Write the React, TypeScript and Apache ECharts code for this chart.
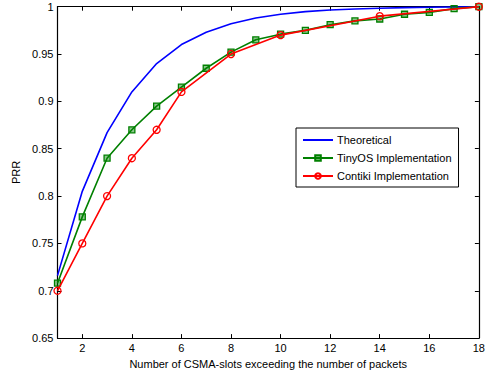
import React, { useEffect, useRef } from "react";
import * as echarts from "echarts";

// Number of CSMA slots exceeding the number of packets
const slots = [1, 2, 3, 4, 5, 6, 7, 8, 9, 10, 11, 12, 13, 14, 15, 16, 17, 18];

// Packet reception ratio per configuration
const theoretical = [
  0.716, 0.805, 0.867, 0.91, 0.94, 0.96, 0.973, 0.982, 0.988, 0.992, 0.9948,
  0.9965, 0.9976, 0.9984, 0.999, 0.9994, 0.9997, 1.0,
];
const tinyos = [
  0.708, 0.778, 0.84, 0.87, 0.895, 0.915, 0.935, 0.952, 0.965, 0.971, 0.975,
  0.981, 0.985, 0.987, 0.992, 0.994, 0.998, 1.0,
];
const contikiSlots = [1, 2, 3, 4, 5, 6, 8, 10, 14, 18];
const contiki = [0.7, 0.75, 0.8, 0.84, 0.87, 0.91, 0.95, 0.97, 0.99, 1.0];

const xTicks = [2, 4, 6, 8, 10, 12, 14, 16, 18];

const FONT = '"Liberation Sans", Arial, Helvetica, sans-serif';

export default function App() {
  const ref = useRef<HTMLDivElement>(null);

  useEffect(() => {
    if (!ref.current) return;
    const chart = echarts.init(ref.current, undefined, { renderer: "svg" });

    const axisLine = { show: true, onZero: false, lineStyle: { color: "#000", width: 1.2 } };
    const tick = { show: true, inside: true, length: 4, lineStyle: { color: "#000", width: 1 } };
    const label = { color: "#000", fontSize: 11, fontFamily: FONT };

    chart.setOption({
      animation: false,
      backgroundColor: "#fff",
      textStyle: { fontFamily: FONT },
      grid: { left: 57.5, right: 7, top: 6.7, bottom: 33.3, containLabel: false },
      legend: {
        orient: "vertical",
        left: 296,
        top: 128,
        itemWidth: 30,
        itemHeight: 7,
        itemGap: 7,
        padding: [6.5, 7, 5.5, 6],
        borderColor: "#000",
        borderWidth: 1,
        backgroundColor: "#fff",
        borderRadius: 0,
        textStyle: { color: "#000", fontSize: 11, fontFamily: FONT, padding: [0, 0, 0, -1] },
        data: ["Theoretical", "TinyOS Implementation", "Contiki Implementation"],
      },
      xAxis: [
        {
          type: "value",
          min: 1,
          max: 18,
          name: "Number of CSMA-slots exceeding the number of packets",
          nameLocation: "middle",
          nameGap: 17,
          nameTextStyle: { color: "#000", fontSize: 11, fontFamily: FONT },
          axisLine,
          axisTick: { ...tick, customValues: xTicks },
          axisLabel: { ...label, margin: 4, customValues: xTicks },
          splitLine: { show: false },
        },
        {
          type: "value",
          position: "top",
          min: 1,
          max: 18,
          axisLine,
          axisTick: { ...tick, customValues: xTicks },
          axisLabel: { show: false, customValues: xTicks },
          splitLine: { show: false },
        },
      ],
      yAxis: [
        {
          type: "value",
          min: 0.65,
          max: 1,
          interval: 0.05,
          name: "PRR",
          nameLocation: "middle",
          nameGap: 23,
          nameTextStyle: { color: "#000", fontSize: 11, fontFamily: FONT },
          axisLine,
          axisTick: tick,
          axisLabel: { ...label, margin: 4 },
          splitLine: { show: false },
        },
        {
          type: "value",
          position: "right",
          min: 0.65,
          max: 1,
          interval: 0.05,
          axisLine,
          axisTick: tick,
          axisLabel: { show: false },
          splitLine: { show: false },
        },
      ],
      series: [
        {
          name: "Theoretical",
          type: "line",
          data: slots.map((s, i) => [s, theoretical[i]]),
          symbol: "none",
          lineStyle: { color: "#0000ff", width: 1.6 },
          itemStyle: { color: "rgba(0,0,255,0)", borderWidth: 0 },
          z: 2,
        },
        {
          name: "TinyOS Implementation",
          type: "line",
          data: slots.map((s, i) => [s, tinyos[i]]),
          symbol: "rect",
          symbolSize: 6,
          showAllSymbol: true,
          lineStyle: { color: "#008000", width: 1.6 },
          itemStyle: { color: "rgba(0,128,0,0.45)", borderColor: "#008000", borderWidth: 1.3 },
          z: 3,
        },
        {
          name: "Contiki Implementation",
          type: "line",
          data: contikiSlots.map((s, i) => [s, contiki[i]]),
          symbol: "circle",
          symbolSize: 7,
          showAllSymbol: true,
          lineStyle: { color: "#ff0000", width: 1.6 },
          itemStyle: { color: "rgba(255,0,0,0)", borderColor: "#ff0000", borderWidth: 1.3 },
          z: 4,
        },
      ],
    });

    return () => chart.dispose();
  }, []);

  return (
    <div
      ref={ref}
      style={{ position: "fixed", left: 0, top: 0, width: 488, height: 374 }}
    />
  );
}
